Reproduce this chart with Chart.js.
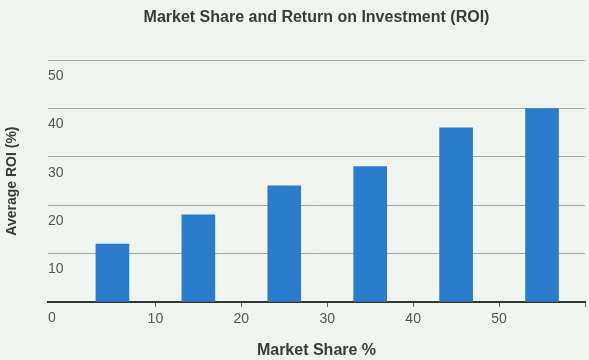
<!DOCTYPE html>
<html lang="en">
<head>
    <meta charset="UTF-8">
    <title>market_share_roi</title>
    <script src="https://cdn.jsdelivr.net/npm/chart.js@4.4.1/dist/chart.umd.min.js"></script>
    <style>
        *{margin:0; padding:0;}
        body{background:#f1f5f0;}
        #wrap{width:589px; height:360px; position:relative;}
    </style>
</head>
<body>
    <div id="wrap">
        <canvas id="barChart"></canvas>
    </div>

    <script>
        // market share bins (midpoint of each 10% band) and average ROI
        const marketShare = [5, 15, 25, 35, 45, 55]
        const avgROI = [12, 18, 24, 28, 36, 40]
        const xTickValues = [10, 20, 30, 40, 50]
        const yTickValues = [0, 10, 20, 30, 40, 50]

        const fontFamily = '"Liberation Sans", Arial, sans-serif'

        const config = {
            type:'bar',
            data:{
                datasets:[
                    {
                        data: marketShare.map(function(x, i){ return {x:x, y:avgROI[i]} }),
                        backgroundColor:'#2a7dcd',
                        barThickness:33
                    }
                ]
            },
            options:{
                responsive:true,
                maintainAspectRatio:false,
                animation:false,
                layout:{padding:{left:0, right:2, top:0, bottom:0}},
                plugins:{
                    legend:{display:false},
                    tooltip:{enabled:false},
                    title:{
                        display:true,
                        fullSize:false,
                        text:'Market Share and Return on Investment (ROI)',
                        color:'#3a3a3a',
                        font:{family:fontFamily, size:16, weight:'bold'},
                        padding:{top:8, bottom:33}
                    }
                },
                scales:{
                    x:{
                        type:'linear',
                        offset:false,
                        min:-2.5,
                        max:60,
                        afterBuildTicks:function(scale){
                            scale.ticks = xTickValues.concat([60]).map(function(v){ return {value:v} })
                        },
                        afterFit:function(scale){ scale.height = 58 },
                        ticks:{
                            color:'#555',
                            font:{family:fontFamily, size:14},
                            padding:4,
                            maxRotation:0,
                            callback:function(v){ return xTickValues.indexOf(v) >= 0 ? String(v) : '' }
                        },
                        grid:{
                            offset:false,
                            drawOnChartArea:false,
                            drawTicks:true,
                            tickLength:5,
                            tickColor:'#666'
                        },
                        border:{display:true, color:'#2f3833', width:2},
                        title:{
                            display:true,
                            text:'Market Share %',
                            color:'#3a3a3a',
                            font:{family:fontFamily, size:16, weight:'bold'},
                            padding:{top:0, bottom:0}
                        }
                    },
                    y:{
                        min:0,
                        max:50,
                        afterBuildTicks:function(scale){
                            scale.ticks = yTickValues.map(function(v){ return {value:v} })
                        },
                        afterFit:function(scale){ scale.width = 48 },
                        ticks:{
                            mirror:true,
                            padding:0,
                            labelOffset:16,
                            color:'#555',
                            font:{family:fontFamily, size:14}
                        },
                        grid:{
                            drawTicks:false,
                            color:function(ctx){ return ctx.tick && ctx.tick.value === 0 ? 'rgba(0,0,0,0)' : '#a3a6a3' },
                            lineWidth:1
                        },
                        border:{display:false},
                        title:{
                            display:true,
                            text:'Average ROI (%)',
                            color:'#3a3a3a',
                            font:{family:fontFamily, size:14, weight:'bold'},
                            padding:{top:4, bottom:0}
                        }
                    }
                }
            }
        }

        const ctx = document.querySelector('#barChart').getContext('2d');
        let barChart = new Chart(ctx, config)
    </script>
</body>
</html>
